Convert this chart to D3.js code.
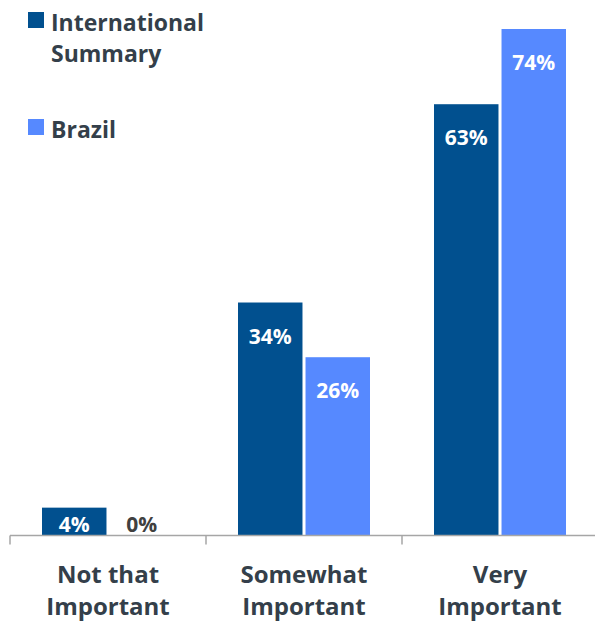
<!DOCTYPE html>
<html>
<head>
<meta charset="utf-8">
<script src="https://cdn.jsdelivr.net/npm/d3@7"></script>
<style>
  body { margin: 0; background: #fff; }
  svg { display: block; font-family: "Open Sans", Lato, sans-serif; font-weight: bold; }
</style>
</head>
<body>
<div class="chart-container"></div>
<script>
(function() {
  // Data
  const categories = [["Not that", "Important"], ["Somewhat", "Important"], ["Very", "Important"]];
  const seriesNames = ["International Summary", "Brazil"];
  const legendLines = [["International", "Summary"], ["Brazil"]];
  const international = [4, 34, 63];
  const brazil = [0, 26, 74];
  const colors = ["#01508f", "#5689ff"];

  const chartWidth = 595;
  const chartHeight = 623;
  const baseY = 535;
  const textColor = "#343f4a";

  const svg = d3.select(".chart-container")
    .append("svg")
    .attr("width", chartWidth)
    .attr("height", chartHeight);

  const catKeys = categories.map(d => d.join(" "));

  const x0 = d3.scaleBand()
    .domain(catKeys)
    .range([10, 598]);

  const x1 = d3.scaleBand()
    .domain(seriesNames)
    .range([32, 164])
    .paddingInner(0.045);

  const y = d3.scaleLinear()
    .domain([0, 74])
    .range([baseY, 29]);

  const rows = catKeys.map((k, i) => ({
    key: k,
    values: [
      { series: seriesNames[0], value: international[i] },
      { series: seriesNames[1], value: brazil[i] }
    ]
  }));

  // Bars
  const gGroups = svg.append("g")
    .selectAll("g")
    .data(rows)
    .join("g")
    .attr("transform", d => `translate(${x0(d.key)},0)`);

  gGroups.selectAll("rect")
    .data(d => d.values)
    .join("rect")
    .attr("x", d => x1(d.series))
    .attr("y", d => y(d.value))
    .attr("width", x1.bandwidth())
    .attr("height", d => baseY - y(d.value))
    .attr("fill", (d, i) => colors[i]);

  gGroups.selectAll("text")
    .data(d => d.values)
    .join("text")
    .attr("x", d => x1(d.series) + x1.bandwidth() / 2)
    .attr("y", d => Math.min(y(d.value) + 41, baseY - 3))
    .attr("text-anchor", "middle")
    .attr("font-size", 21)
    .attr("fill", d => d.value > 0 ? "#fff" : "#404040")
    .text(d => d.value + "%");

  // Axis
  const xAxis = g => g
    .call(d3.axisBottom(x0).tickSize(0).tickFormat(""))
    .call(g => g.select(".domain")
      .attr("d", `M10,0H${chartWidth}`)
      .attr("stroke", "#a6a6a6")
      .attr("stroke-width", 1.5))
    .call(g => g.selectAll(".tick").remove());

  const gAxis = svg.append("g")
    .attr("transform", `translate(0,${baseY + 0.5})`)
    .call(xAxis);

  gAxis.selectAll(".sep")
    .data(catKeys.concat(["end"]))
    .join("line")
    .attr("class", "sep")
    .attr("x1", (d, i) => i < catKeys.length ? x0(d) : x0.range()[1])
    .attr("x2", (d, i) => i < catKeys.length ? x0(d) : x0.range()[1])
    .attr("y1", 0)
    .attr("y2", 9)
    .attr("stroke", "#a6a6a6")
    .attr("stroke-width", 1.5);

  // Category labels
  svg.append("g")
    .selectAll("text")
    .data(categories)
    .join("text")
    .attr("x", (d, i) => x0(catKeys[i]) + x0.bandwidth() / 2)
    .attr("y", 583)
    .attr("text-anchor", "middle")
    .attr("font-size", 24)
    .attr("fill", textColor)
    .selectAll("tspan")
    .data(d => d)
    .join("tspan")
    .attr("x", function() { return this.parentNode.getAttribute("x"); })
    .attr("dy", (d, i) => i === 0 ? 0 : 32)
    .text(d => d);

  // Legend
  const legendY = [12, 119];
  const gLegend = svg.append("g")
    .selectAll("g")
    .data(seriesNames)
    .join("g")
    .attr("transform", (d, i) => `translate(28,${legendY[i]})`);

  gLegend.append("rect")
    .attr("width", 16)
    .attr("height", 16)
    .attr("fill", (d, i) => colors[i]);

  gLegend.append("text")
    .attr("x", 23)
    .attr("y", 19)
    .attr("font-size", 23)
    .attr("fill", textColor)
    .selectAll("tspan")
    .data((d, i) => legendLines[i])
    .join("tspan")
    .attr("x", 23)
    .attr("dy", (d, i) => i === 0 ? 0 : 31)
    .text(d => d);
})();
</script>
</body>
</html>
